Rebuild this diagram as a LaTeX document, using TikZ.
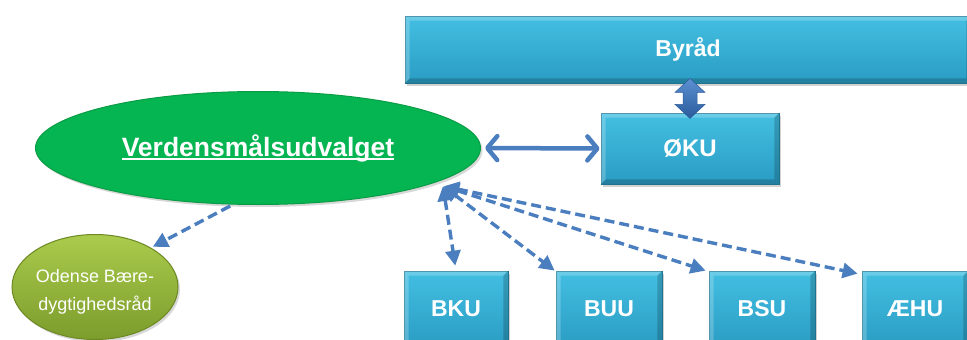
\documentclass[tikz,border=0pt]{standalone}
\usepackage{fontspec}
\setmainfont{Liberation Sans}
\usetikzlibrary{arrows.meta,shapes.geometric,shadows,calc}
\definecolor{boxtop}{HTML}{43BFE2}
\definecolor{boxbot}{HTML}{2A9CC3}
\definecolor{boxedge}{HTML}{1F7B98}
\definecolor{arr}{HTML}{4A7EBE}
\definecolor{vtop}{HTML}{5B90D2}
\definecolor{vbot}{HTML}{2B5C9C}
\definecolor{green1}{HTML}{04B552}
\definecolor{green2}{HTML}{0A9C45}
\definecolor{olivetop}{HTML}{AACB4C}
\definecolor{olivebot}{HTML}{7C9C2C}
\definecolor{oliveedge}{HTML}{6C8924}
\newcommand\myul[1]{\setbox0\hbox{#1}\rlap{\rule[-4pt]{\wd0}{1.9pt}}\box0}
\begin{document}
\begin{tikzpicture}[x=1pt,y=-1pt,
  box/.style={draw=boxedge, line width=0.8pt, top color=boxtop, bottom color=boxbot,
    text=white, inner sep=0pt, font=\bfseries\fontsize{23}{27}\selectfont,
    drop shadow={shadow xshift=2pt, shadow yshift=-2.5pt, opacity=0.35}},
  bevlight/.style={fill=white, fill opacity=0.22},
  bevdark/.style={fill=black, fill opacity=0.18},
  darr/.style={draw=arr, line width=3.4pt, dash pattern=on 10pt off 5pt,
    {Triangle[length=15pt,width=15pt]}-{Triangle[length=15pt,width=15pt]}},
  harr/.style={draw=arr, line width=4.5pt, line cap=round,
    {Straight Barb[length=10pt,width=24pt,round]}-{Straight Barb[length=10pt,width=24pt,round]}},
]
\clip (0,0) rectangle (967,340);
\useasboundingbox (0,0) rectangle (967,340);
\fill[white] (0,0) rectangle (967,340);

% boxes
\node[box, minimum width=566pt, minimum height=67pt] (byrad) at (688,49.5) {Byråd};
\node[box, minimum width=178pt, minimum height=71pt, font=\bfseries\fontsize{24}{28}\selectfont] (oku) at (690,148.5) {ØKU};
\node[box, minimum width=104pt, minimum height=76pt] (bku) at (456,309) {BKU};
\node[box, minimum width=106pt, minimum height=76pt] (buu) at (609,309) {BUU};
\node[box, minimum width=106pt, minimum height=76pt] (bsu) at (762,309) {BSU};
\node[box, minimum width=106pt, minimum height=76pt] (aehu) at (915,309) {ÆHU};

% bevel edges
\foreach \n in {byrad,oku,bku,buu,bsu,aehu}{
  \path[bevlight] (\n.north west) -- (\n.north east) -- ($(\n.north east)+(-5,5)$) -- ($(\n.north west)+(5,5)$) -- cycle;
  \path[bevlight] (\n.north west) -- ($(\n.north west)+(5,5)$) -- ($(\n.south west)+(5,-5)$) -- (\n.south west) -- cycle;
  \path[bevdark] (\n.south west) -- (\n.south east) -- ($(\n.south east)+(-5,-5)$) -- ($(\n.south west)+(5,-5)$) -- cycle;
  \path[bevdark] (\n.north east) -- ($(\n.north east)+(-5,5)$) -- ($(\n.south east)+(-5,-5)$) -- (\n.south east) -- cycle;
}

% ellipses
\node[ellipse, draw=green2, line width=1pt, fill=green1, minimum width=445pt, minimum height=113pt,
  inner sep=0pt, text=white, font=\bfseries\fontsize{26.5}{30}\selectfont,
  drop shadow={shadow xshift=2pt, shadow yshift=-2.5pt, opacity=0.3}]
  (verden) at (258,148) {\myul{Verdensmålsudvalget}};
\node[ellipse, draw=oliveedge, line width=1pt, top color=olivetop, bottom color=olivebot,
  minimum width=166pt, minimum height=105pt, inner sep=0pt,
  drop shadow={shadow xshift=2pt, shadow yshift=-2.5pt, opacity=0.3}]
  (odense) at (95,287) {};
\node[text=white, align=center, font=\fontsize{18}{28}\selectfont, inner sep=0pt]
  (odensetext) at ($(odense.center)+(0,5)$) {Odense Bære-\\dygtighedsråd};

% vertical block double arrow Byråd <-> ØKU
\path[top color=vtop, bottom color=vbot, draw=vbot, line width=0.5pt]
  ($(byrad.south)+(2,-5)$) -- ++(15,14) -- ++(-8,0) -- ++(0,12) -- ++(8,0)
  -- ++(-15,14) -- ++(-15,-14) -- ++(8,0) -- ++(0,-12) -- ++(-8,0) -- cycle;

% horizontal double arrow
\draw[harr, shorten <=4pt, shorten >=1pt] (verden.east) -- (oku.west);

% dashed connectors
\coordinate (hub) at (443,186);
\draw[darr, shorten >=5pt] (hub) -- (bku.north);
\draw[darr, shorten <=1pt] (hub) -- ($(buu.north west)+(-1,0)$);
\draw[darr, shorten <=1pt] (hub) -- ($(bsu.north west)+(-3,0)$);
\draw[darr, shorten <=1pt] (hub) -- ($(aehu.north west)+(-4,3)$);

\draw[draw=arr, line width=3.4pt, dash pattern=on 10pt off 5pt, -{Triangle[length=15pt,width=15pt]},
  shorten <=3pt, shorten >=2pt] (verden.246) -- (odense.35);
\end{tikzpicture}
\end{document}
